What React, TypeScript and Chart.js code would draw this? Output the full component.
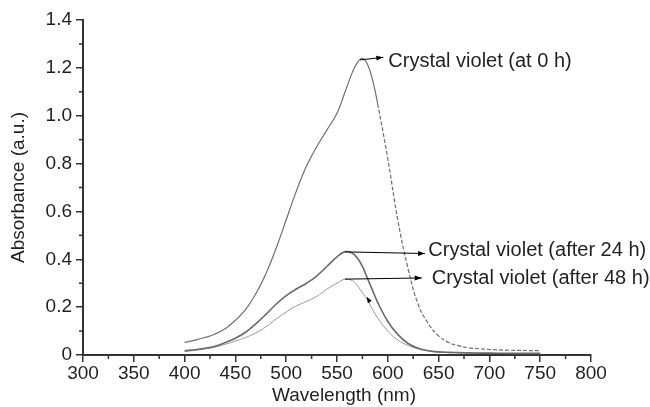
import React, { useEffect, useRef } from 'react';
import { Chart, registerables } from 'chart.js';

Chart.register(...registerables);

// Wavelength samples (nm)
const wavelengths = [400, 410, 420, 430, 440, 450, 460, 470, 480, 490, 500, 510, 520, 530, 540, 550, 558, 565, 570, 575, 580, 585, 590, 600, 610, 620, 630, 640, 650, 660, 670, 680, 690, 700, 720, 750];

// Absorbance (a.u.)
const absorbance0h = [0.053, 0.062, 0.073, 0.088, 0.11, 0.145, 0.19, 0.255, 0.34, 0.445, 0.565, 0.685, 0.79, 0.87, 0.94, 1.01, 1.10, 1.18, 1.222, 1.24, 1.215, 1.15, 1.05, 0.82, 0.56, 0.36, 0.21, 0.13, 0.08, 0.052, 0.038, 0.030, 0.026, 0.023, 0.020, 0.018];
const absorbance24h = [0.018, 0.022, 0.028, 0.037, 0.052, 0.07, 0.095, 0.13, 0.17, 0.212, 0.248, 0.276, 0.30, 0.33, 0.37, 0.41, 0.432, 0.426, 0.405, 0.37, 0.32, 0.27, 0.22, 0.14, 0.085, 0.048, 0.028, 0.018, 0.013, 0.011, 0.010, 0.009, 0.008, 0.008, 0.007, 0.007];
const absorbance48h = [0.015, 0.019, 0.025, 0.033, 0.045, 0.058, 0.073, 0.092, 0.118, 0.15, 0.18, 0.205, 0.224, 0.245, 0.275, 0.30, 0.317, 0.311, 0.29, 0.26, 0.23, 0.19, 0.155, 0.10, 0.062, 0.04, 0.025, 0.017, 0.012, 0.010, 0.009, 0.008, 0.007, 0.007, 0.006, 0.006];

const seriesLabels = ['Crystal violet (at 0 h)', 'Crystal violet (after 24 h)', 'Crystal violet (after 48 h)'];
const xTitle = 'Wavelength (nm)';
const yTitle = 'Absorbance (a.u.)';

// Annotation anchors in data units (wavelength, absorbance)
const arrowFromX = [572.6, 557.9, 557.9];
const arrowFromY = [1.233, 0.431, 0.317];
const arrowToX = [595.6, 636.6, 633.4];
const arrowToY = [1.244, 0.424, 0.322];
const labelX = [600.5, 639.9, 643.2];
const labelY = [1.225, 0.438, 0.321];

const xMin = 300, xMax = 800, xStep = 50;
const yMin = 0, yMax = 1.4, yStep = 0.2;

const FONT_FAMILY = '"Liberation Sans", Arial, Helvetica, sans-serif';
const TEXT_COLOR = '#231f20';
const AXIS_COLOR = '#333333';

function drawArrowHead(ctx: CanvasRenderingContext2D, x0: number, y0: number, x1: number, y1: number, len: number, half: number) {
  const ang = Math.atan2(y1 - y0, x1 - x0);
  ctx.beginPath();
  ctx.moveTo(x1, y1);
  ctx.lineTo(x1 - len * Math.cos(ang) + half * Math.sin(ang), y1 - len * Math.sin(ang) - half * Math.cos(ang));
  ctx.lineTo(x1 - len * Math.cos(ang) - half * Math.sin(ang), y1 - len * Math.sin(ang) + half * Math.cos(ang));
  ctx.closePath();
  ctx.fill();
}

const decorPlugin = {
  id: 'decor',
  afterDraw(chart: any) {
    const ctx: CanvasRenderingContext2D = chart.ctx;
    const xs = chart.scales.x;
    const ys = chart.scales.y;
    const area = chart.chartArea;
    ctx.save();
    // minor ticks
    ctx.strokeStyle = AXIS_COLOR;
    ctx.lineWidth = 1.5;
    for (let v = xMin + xStep / 2; v < xMax; v += xStep) {
      const px = xs.getPixelForValue(v);
      ctx.beginPath();
      ctx.moveTo(px, area.bottom);
      ctx.lineTo(px, area.bottom + 4);
      ctx.stroke();
    }
    for (let v = yMin + yStep / 2; v < yMax; v += yStep) {
      const py = ys.getPixelForValue(v);
      ctx.beginPath();
      ctx.moveTo(area.left, py);
      ctx.lineTo(area.left - 4, py);
      ctx.stroke();
    }
    // x-axis title (slightly right of the plot centre, as in the original)
    ctx.fillStyle = TEXT_COLOR;
    ctx.font = `19px ${FONT_FAMILY}`;
    ctx.textAlign = 'center';
    ctx.textBaseline = 'middle';
    ctx.fillText(xTitle, (area.left + area.right) / 2 + 7, chart.height - 11.5);
    // annotations
    ctx.strokeStyle = '#000';
    ctx.lineWidth = 1;
    for (let i = 0; i < seriesLabels.length; i++) {
      const x0 = xs.getPixelForValue(arrowFromX[i]);
      const y0 = ys.getPixelForValue(arrowFromY[i]);
      const x1 = xs.getPixelForValue(arrowToX[i]);
      const y1 = ys.getPixelForValue(arrowToY[i]);
      ctx.beginPath();
      ctx.moveTo(x0, y0);
      ctx.lineTo(x1, y1);
      ctx.stroke();
      ctx.fillStyle = '#000';
      drawArrowHead(ctx, x0, y0, x1, y1, 7, 2.5);
      ctx.fillStyle = TEXT_COLOR;
      ctx.font = `20px ${FONT_FAMILY}`;
      ctx.textAlign = 'left';
      ctx.textBaseline = 'middle';
      ctx.fillText(seriesLabels[i], xs.getPixelForValue(labelX[i]), ys.getPixelForValue(labelY[i]));
    }
    // small arrowhead on the 48 h curve
    ctx.fillStyle = '#000';
    const tx = xs.getPixelForValue(579.2);
    const ty = ys.getPixelForValue(0.243);
    drawArrowHead(ctx, tx + 3, ty + 5, tx, ty, 6, 2.2);
    ctx.restore();
  },
};

export default function App() {
  const canvasRef = useRef<HTMLCanvasElement | null>(null);

  useEffect(() => {
    if (!canvasRef.current) return;
    const font = { family: FONT_FAMILY, size: 19 };
    const toPoints = (ys: number[]) => wavelengths.map((x, i) => ({ x, y: ys[i] }));
    const chart = new Chart(canvasRef.current, {
      type: 'line',
      data: {
        datasets: [
          {
            label: seriesLabels[0],
            data: toPoints(absorbance0h),
            borderColor: '#6f6f6f',
            borderWidth: 1.2,
            pointRadius: 0,
            tension: 0.4,
            segment: {
              borderDash: (c: any) => (c.p0.parsed.x >= 590 ? [4, 2] : undefined),
            },
          },
          {
            label: seriesLabels[1],
            data: toPoints(absorbance24h),
            borderColor: '#6a6a6a',
            borderWidth: 1.6,
            pointRadius: 0,
            tension: 0.4,
          },
          {
            label: seriesLabels[2],
            data: toPoints(absorbance48h),
            borderColor: '#8c8c8c',
            borderWidth: 0.9,
            pointRadius: 0,
            tension: 0.4,
          },
        ],
      },
      options: {
        animation: false,
        responsive: false,
        devicePixelRatio: 1,
        layout: { padding: { top: 20, right: 59, left: 0, bottom: 0 } },
        plugins: { legend: { display: false }, tooltip: { enabled: false } },
        scales: {
          x: {
            type: 'linear',
            min: xMin,
            max: xMax,
            afterFit: (s: any) => { s.height = 52; },
            ticks: { stepSize: xStep, font, color: TEXT_COLOR, padding: 0, maxRotation: 0, autoSkip: false },
            grid: { display: true, drawOnChartArea: false, drawTicks: true, tickLength: 7, color: AXIS_COLOR, lineWidth: 1.5 },
            border: { display: true, color: AXIS_COLOR, width: 2 },
            title: { display: false },
          },
          y: {
            type: 'linear',
            min: yMin,
            max: yMax,
            afterFit: (s: any) => { s.width = 83; },
            ticks: {
              stepSize: yStep,
              font,
              color: TEXT_COLOR,
              padding: 4,
              callback: (v: any) => (Math.abs(Number(v)) < 1e-9 ? '0' : Number(v).toFixed(1)),
            },
            grid: { display: true, drawOnChartArea: false, drawTicks: true, tickLength: 7, color: AXIS_COLOR, lineWidth: 1.5 },
            border: { display: true, color: AXIS_COLOR, width: 2 },
            title: { display: true, text: yTitle, font, color: TEXT_COLOR, padding: { top: 7.5, bottom: 0 } },
          },
        },
      } as any,
      plugins: [decorPlugin],
    });
    return () => chart.destroy();
  }, []);

  return (
    <div style={{ position: 'absolute', left: 0, top: 0, width: 650, height: 407, background: '#fff' }}>
      <canvas ref={canvasRef} width={650} height={407} />
    </div>
  );
}
